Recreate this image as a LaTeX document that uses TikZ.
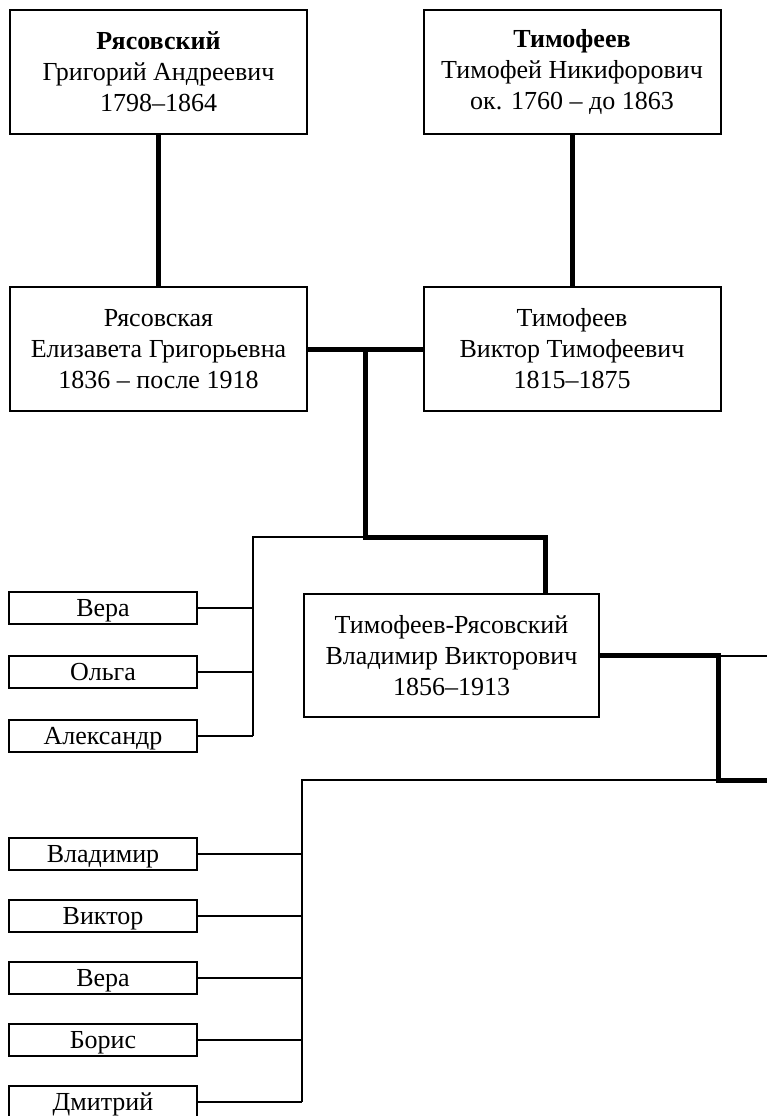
\documentclass[tikz,border=0pt]{standalone}
\usepackage{fontspec}
\setmainfont{Liberation Serif}
\usetikzlibrary{positioning}
\tikzset{
 personbox/.style={draw, line width=2pt, minimum width=297pt, minimum height=124pt, inner sep=0pt, align=center, font=\fontsize{26}{31}\selectfont},
 kidbox/.style={draw, line width=2pt, minimum width=188pt, minimum height=32pt, inner sep=0pt, text height=17pt, text depth=0pt, font=\fontsize{26}{28}\selectfont},
 mainline/.style={line width=5pt},
 sibline/.style={line width=2pt}
}
\begin{document}
\begin{tikzpicture}[x=1pt,y=-1pt] % pixel units, y downwards
 \useasboundingbox (0,0) rectangle (767,1116);
 % parents and grandparents
 \node[personbox] (grigory) at (158.5,72) {\textbf{Рясовский}\\Григорий Андреевич\\1798--1864};
 \node[personbox] (timofey) at (572,72) {\textbf{Тимофеев}\\Тимофей Никифорович\\ок. 1760 -- до 1863};
 \node[personbox] (elizaveta) at (158.5,349) {Рясовская\\Елизавета Григорьевна\\1836 -- после 1918};
 \node[personbox] (viktor) at (572,349) {Тимофеев\\Виктор Тимофеевич\\1815--1875};
 \node[personbox, minimum width=295pt, minimum height=123pt] (vladimir) at (451.5,655.5) {Тимофеев-Рясовский\\Владимир Викторович\\1856--1913};
 % children of Viktor and Elizaveta
 \foreach \name/\txt/\y in {vera/Вера/608, olga/Ольга/672, alexandr/Александр/736}
  {\node[kidbox] (\name) at (103,\y) {\txt};}
 % children of Vladimir
 \foreach \name/\txt/\y in {vladimirjr/Владимир/854, viktorjr/Виктор/916, verajr/Вера/978, boris/Борис/1040, dmitry/Дмитрий/1102}
  {\node[kidbox] (\name) at (103,\y) {\txt};}
 % junction points
 \coordinate (m1) at (365,349);
 \coordinate (k1) at (365,537);
 \coordinate (k2) at (545,537);
 \coordinate (s1) at (253,537);
 \coordinate (w1) at (718,655.5);
 \coordinate (w2) at (718,780);
 \coordinate (s2) at (302,780);
 \coordinate (e1) at (770,655.5);
 \coordinate (e2) at (770,780);
 % thick lines
 \draw[mainline] (grigory.south) -- (elizaveta.north);
 \draw[mainline] (timofey.south) -- (viktor.north);
 \draw[mainline] (elizaveta.east) -- (viktor.west);
 \draw[mainline] (m1) -- (k1) -- (k2) -- (k2 |- vladimir.north);
 \draw[mainline] (vladimir.east) -- (w1) -- (w2) -- (e2);
 % thin lines
 \draw[sibline] (w1) -- (e1);
 \draw[sibline] (k1) -- (s1) -- (s1 |- alexandr.east);
 \foreach \name in {vera, olga, alexandr}
  {\draw[sibline] (\name.east) -- (\name.east -| s1);}
 \draw[sibline] (w2) -- (s2) -- (s2 |- dmitry.east);
 \foreach \name in {vladimirjr, viktorjr, verajr, boris, dmitry}
  {\draw[sibline] (\name.east) -- (\name.east -| s2);}
\end{tikzpicture}
\end{document}
